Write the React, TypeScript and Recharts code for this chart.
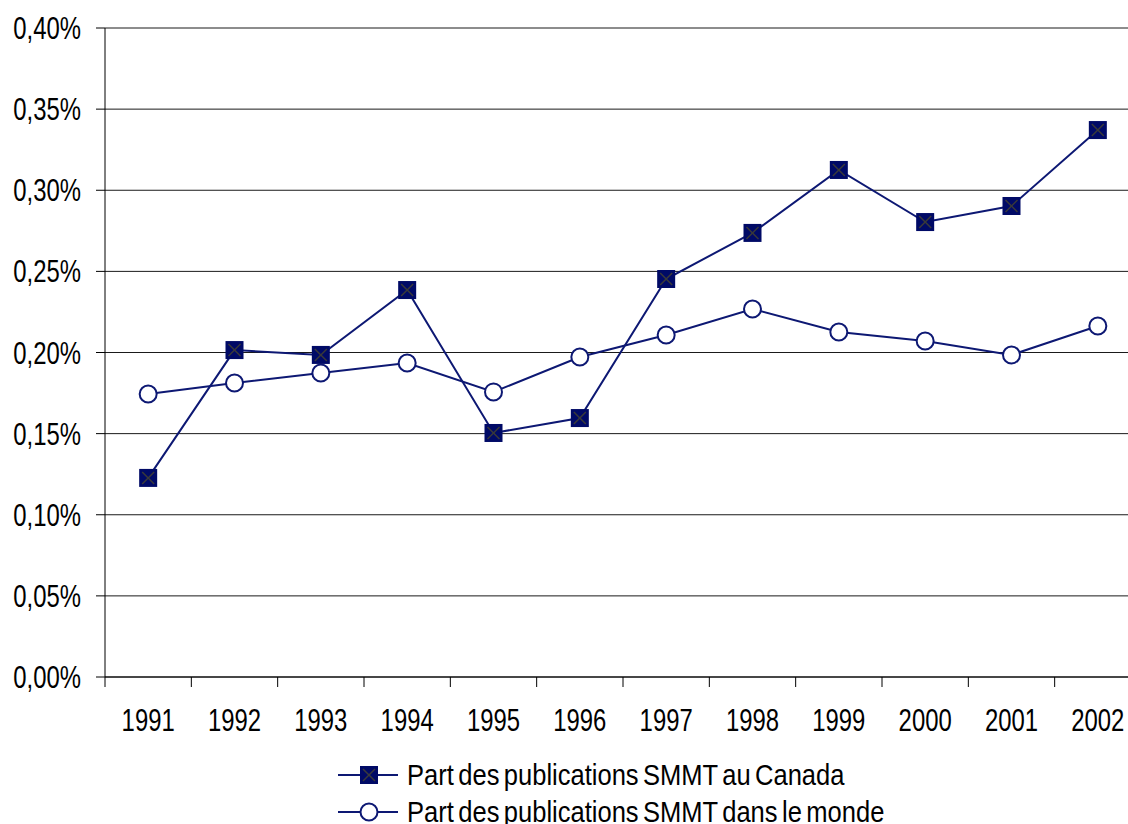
import React from 'react';
import { LineChart, Line, XAxis, YAxis, CartesianGrid, Legend } from 'recharts';

const years = ['1991', '1992', '1993', '1994', '1995', '1996', '1997', '1998', '1999', '2000', '2001', '2002'];
const canada = [0.1227, 0.2015, 0.1985, 0.2385, 0.1504, 0.1596, 0.2453, 0.2737, 0.3125, 0.2804, 0.2903, 0.3371];
const monde = [0.1744, 0.1812, 0.1874, 0.1935, 0.1757, 0.1972, 0.2108, 0.2268, 0.2126, 0.2071, 0.1985, 0.2163];
const yTicks = [0, 0.05, 0.1, 0.15, 0.2, 0.25, 0.3, 0.35, 0.4];
const seriesNames = ['Part des publications SMMT au Canada', 'Part des publications SMMT dans le monde'];

const data = years.map((y, i) => ({ year: y, canada: canada[i], monde: monde[i] }));

const FONT = '"Liberation Sans", Arial, sans-serif';
const NAVY = '#0d1873';
const FILL = '#000a66';
const TICK_SIZE = 9;
const X_MARGIN = 23;

const SquareDot = (props: any) => {
  const { cx, cy, index } = props;
  if (cx == null || cy == null) return null;
  const s = 9;
  return (
    <g key={`sq-${index}`}>
      <rect x={cx - s} y={cy - s} width={2 * s} height={2 * s} fill={FILL} />
      <line x1={cx - 6} y1={cy - 6} x2={cx + 6} y2={cy + 6} stroke="#3a3a3a" strokeWidth={1.5} />
      <line x1={cx - 6} y1={cy + 6} x2={cx + 6} y2={cy - 6} stroke="#3a3a3a" strokeWidth={1.5} />
    </g>
  );
};

const CircleDot = (props: any) => {
  const { cx, cy, index } = props;
  if (cx == null || cy == null) return null;
  return <circle key={`ci-${index}`} cx={cx} cy={cy} r={8.5} fill="#fff" stroke={NAVY} strokeWidth={2} />;
};

const XTick = (props: any) => {
  const { x, y, payload, width } = props;
  const bw = (width || 1036) / years.length;
  const axisY = y - TICK_SIZE - X_MARGIN;
  const bx = x - bw / 2;
  return (
    <g>
      <line x1={bx} y1={axisY} x2={bx} y2={axisY + TICK_SIZE + 1} stroke="#000" strokeWidth={1} />
      <text transform={`translate(${x},${y}) scale(0.77,1)`} textAnchor="middle" dy="0.71em" fontFamily={FONT} fontSize={31} fill="#000">
        {payload.value}
      </text>
    </g>
  );
};

const YTick = (props: any) => {
  const { x, y, payload } = props;
  const label = Number(payload.value).toFixed(2).replace('.', ',') + '%';
  return (
    <text transform={`translate(${x},${y}) scale(0.77,1)`} textAnchor="end" dy="0.355em" fontFamily={FONT} fontSize={31} fill="#000">
      {label}
    </text>
  );
};

const LegendContent = () => (
  <div style={{ position: 'relative', width: 1141, height: 70, fontFamily: FONT, fontSize: 29, color: '#000' }}>
    {seriesNames.map((name, i) => (
      <div key={name} style={{ position: 'absolute', left: 338, top: i === 0 ? 3 : 40, height: 36, display: 'flex', alignItems: 'center', whiteSpace: 'nowrap' }}>
        <svg width={60} height={24} style={{ display: 'block' }}>
          <line x1={0} y1={12} x2={60} y2={12} stroke={NAVY} strokeWidth={2} />
          {i === 0 ? (
            <g>
              <rect x={22} y={3} width={18} height={18} fill={FILL} />
              <line x1={25} y1={6} x2={37} y2={18} stroke="#3a3a3a" strokeWidth={1.5} />
              <line x1={25} y1={18} x2={37} y2={6} stroke="#3a3a3a" strokeWidth={1.5} />
            </g>
          ) : (
            <circle cx={31} cy={12} r={8.5} fill="#fff" stroke={NAVY} strokeWidth={2} />
          )}
        </svg>
        <span style={{ marginLeft: 9, lineHeight: '36px', wordSpacing: -3, display: 'inline-block', transform: 'scaleX(0.88)', transformOrigin: 'left center' }}>{name}</span>
      </div>
    ))}
  </div>
);

export default function App() {
  return (
    <div style={{ position: 'absolute', left: 0, top: 0, width: 1128, height: 824, overflow: 'hidden', background: '#fff' }}>
      <LineChart width={1141} height={824} data={data} margin={{ top: 28, right: 0, left: 0, bottom: 0 }}>
        <CartesianGrid vertical={false} stroke="#1a1a1a" strokeWidth={1} />
        <XAxis
          dataKey="year"
          scale="band"
          interval={0}
          tickSize={TICK_SIZE}
          tickMargin={X_MARGIN}
          tickLine={false}
          height={77}
          axisLine={{ stroke: '#000', strokeWidth: 1 }}
          tick={<XTick />}
        />
        <YAxis
          domain={[0, 0.4]}
          ticks={yTicks}
          interval={0}
          width={105}
          tickSize={TICK_SIZE}
          tickMargin={15}
          axisLine={{ stroke: '#000', strokeWidth: 1 }}
          tickLine={{ stroke: '#000' }}
          tick={<YTick />}
        />
        <Legend verticalAlign="bottom" content={<LegendContent />} height={70} />
        <Line type="linear" dataKey="monde" name={seriesNames[1]} stroke={NAVY} strokeWidth={2} dot={CircleDot} activeDot={false} isAnimationActive={false} />
        <Line type="linear" dataKey="canada" name={seriesNames[0]} stroke={NAVY} strokeWidth={2} dot={SquareDot} activeDot={false} isAnimationActive={false} />
      </LineChart>
    </div>
  );
}
